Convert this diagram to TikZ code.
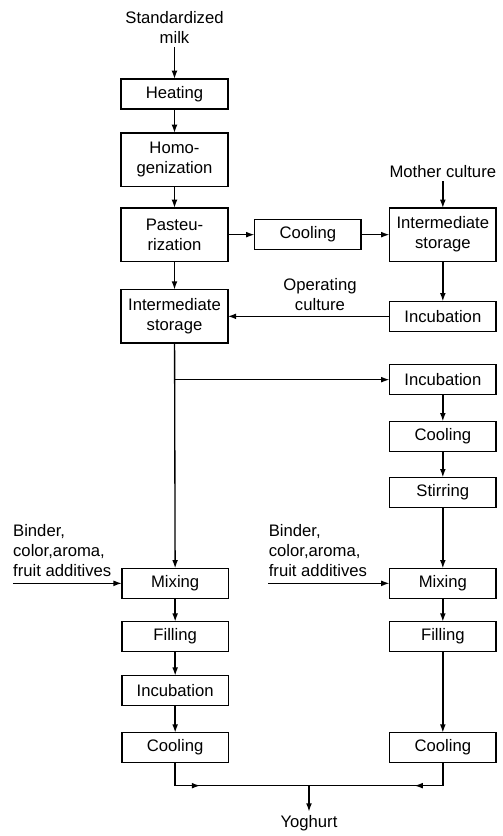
\documentclass[tikz,border=0pt]{standalone}
\usepackage{fontspec}
\setmainfont{Liberation Sans}
\usetikzlibrary{positioning, arrows.meta, calc}

\begin{document}
\begin{tikzpicture}[node distance=14pt,
  box/.style={rectangle, draw=black, line width=0.9pt, minimum width=64pt, minimum height=18pt, inner sep=2pt, outer sep=0pt},
  tallbox/.style={box, minimum height=32pt, align=center},
  flow/.style={line width=0.8pt, -{Latex[length=5pt, width=3.5pt]}},
  plain/.style={line width=0.8pt}]

\useasboundingbox (-104.7pt,56.4pt) rectangle (197.1pt,-445.2pt);

\node[box](heating) at (0,0){Heating};
\node[align=center, inner sep=2pt](milk)[above=19pt of heating]{Standardized\\milk};
\node[tallbox](homogenization)[below=14.4pt of heating]{Homo-\\genization};
\node[tallbox](pasteurization)[below=13pt of homogenization]{Pasteu-\\rization};
\node[box](cooling)[right=16pt of pasteurization]{Cooling};
\node[tallbox](motherStorage)[right=17pt of cooling]{Intermediate\\storage};
\node[inner sep=2pt](mother)[above=16pt of motherStorage]{Mother culture};
\node[box](motherIncubation)[below=24pt of motherStorage]{Incubation};
\node[tallbox](storage)[below=17pt of pasteurization]{Intermediate\\storage};

% stirred yoghurt line
\node[box](incubationR)[below=20pt of motherIncubation]{Incubation};
\node[box](coolingR)[below=16pt of incubationR]{Cooling};
\node[box](stirring)[below=15.6pt of coolingR]{Stirring};
\node[box](mixingR)[below=36.6pt of stirring]{Mixing};
\node[box](fillingR)[below=14pt of mixingR]{Filling};
\node[box](coolingR2)[below=48.6pt of fillingR]{Cooling};

% set yoghurt line
\node[box](mixingL)[left=96.6pt of mixingR]{Mixing};
\node[box](fillingL)[below=14pt of mixingL]{Filling};
\node[box](incubationL)[below=14.4pt of fillingL]{Incubation};
\node[box](coolingL)[below=16.2pt of incubationL]{Cooling};

\coordinate (branch) at (storage |- incubationR);
\coordinate[left=65.4pt of mixingL] (additivesLeft);
\coordinate[left=72.6pt of mixingR] (additivesRight);
\coordinate[below=13.8pt of coolingL] (leftCorner);
\coordinate[below=13.8pt of coolingR2] (rightCorner);
\coordinate (merge) at ($(leftCorner)!0.5!(rightCorner)$);
\coordinate[right=15pt of leftCorner] (leftTip);
\coordinate[left=17pt of rightCorner] (rightTip);
\node[inner sep=2pt](yoghurt)[below=15.6pt of merge]{Yoghurt};

\node[align=left, inner xsep=0pt, inner ysep=4pt, above right] at (additivesLeft) {Binder,\\color,aroma,\\fruit additives};
\node[align=left, inner xsep=0pt, inner ysep=4pt, above right] at (additivesRight) {Binder,\\color,aroma,\\fruit additives};

\draw[flow] (milk) -- (heating);
\draw[flow] (heating) -- (homogenization);
\draw[flow] (homogenization) -- (pasteurization);
\draw[flow] (pasteurization) -- (cooling);
\draw[flow] (cooling) -- (motherStorage);
\draw[flow] (mother) -- (motherStorage);
\draw[flow] (motherStorage) -- (motherIncubation);
\draw[flow] (pasteurization) -- (storage);
\draw[flow] (motherIncubation.west) -- (storage.east |- motherIncubation.west)
  node[above, pos=0.43, align=center, inner sep=3pt]{Operating\\culture};

\draw[flow] (storage) -- (mixingL);
\draw[flow] (branch) -- (incubationR);
\draw[flow] (incubationR) -- (coolingR);
\draw[flow] (coolingR) -- (stirring);
\draw[flow] (stirring) -- (mixingR);
\draw[flow] (mixingR) -- (fillingR);
\draw[flow] (fillingR) -- (coolingR2);

\draw[flow] (mixingL) -- (fillingL);
\draw[flow] (fillingL) -- (incubationL);
\draw[flow] (incubationL) -- (coolingL);

\draw[flow] (additivesLeft) -- (mixingL);
\draw[flow] (additivesRight) -- (mixingR);

\draw[plain] (coolingL) -- (leftCorner) -- (rightCorner) -- (coolingR2);
\draw[flow] (leftCorner) -- (leftTip);
\draw[flow] (rightCorner) -- (rightTip);
\draw[flow] (merge) -- (yoghurt);

\end{tikzpicture}
\end{document}
